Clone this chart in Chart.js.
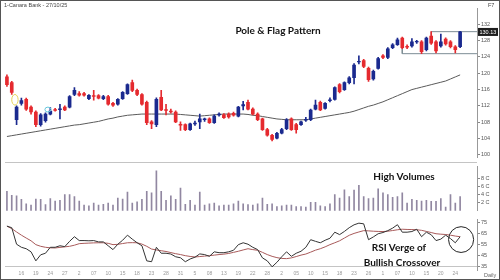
<!DOCTYPE html>
<html>
<head>
<meta charset="utf-8">
<script src="https://cdn.jsdelivr.net/npm/chart.js@4.4.1/dist/chart.umd.min.js"></script>
<style>
body { margin: 0; background: #fff; }
#wrap { position: relative; width: 500px; height: 280px; overflow: hidden; background: #fff; font-family: "Liberation Sans", Arial, sans-serif; }
canvas { position: absolute; left: 0; }
.note { position: absolute; font-family: Lato, "Open Sans", sans-serif; font-weight: 700; font-size: 10px; line-height: 12px; color: #111; white-space: nowrap; transform: translateX(-50%); }
.small { position: absolute; font-size: 5.5px; line-height: 7px; color: #444; white-space: nowrap; }
.rule { position: absolute; height: 1px; background: #c4c4c4; }
#frame { position: absolute; left: 0; top: 0; width: 498px; height: 278px; border: 1px solid #555; pointer-events: none; }
</style>
</head>
<body>
<div id="wrap">
  <canvas id="priceChart" width="500" height="162" style="top:0px"></canvas>
  <canvas id="volChart" width="500" height="53" style="top:162px"></canvas>
  <canvas id="rsiChart" width="500" height="65" style="top:215px"></canvas>
  <div class="rule" style="left:5px;top:162px;width:472px"></div>
  <div class="small" style="left:4px;top:2px">1-Canara Bank - 27/10/25</div>
  <div class="small" style="left:488px;top:2px">F7</div>
  <div class="small" style="left:484px;top:272px;color:#666">Daily</div>
  <div class="note" style="left:278px;top:24px">Pole &amp; Flag Pattern</div>
  <div class="note" style="left:404px;top:170px">High Volumes</div>
  <div class="note" style="left:399px;top:241px">RSI Verge of</div>
  <div class="note" style="left:402px;top:256px">Bullish Crossover</div>
  <div id="frame"></div>
</div>
<script>
// daily candles, oldest first
var opens = [119.1, 117.7, 108.6, 112.6, 113.6, 111.7, 110.5, 107.4, 108.4, 110.0,
    111.1, 111.1, 111.7, 111.7, 114.8, 115.0, 115.0, 113.8, 114.5, 114.5,
    113.8, 114.3, 112.6, 112.4, 113.8, 115.0, 117.7, 115.8, 114.8, 112.9,
    108.1, 107.4, 114.1, 111.1, 110.7, 110.5, 107.5, 107.4, 106.2, 107.6,
    108.1, 108.6, 108.8, 107.9, 109.8, 109.8, 110.0, 110.2, 109.5, 112.0,
    112.9, 111.2, 110.0, 108.8, 106.2, 104.8, 104.1, 105.3, 106.4, 108.8,
    107.4, 107.4, 108.5, 108.6, 111.2, 112.9, 111.4, 113.3, 113.6, 117.2,
    116.0, 117.7, 118.9, 122.8, 123.1, 121.2, 118.6, 121.2, 124.3, 123.9,
    126.3, 127.0, 128.6, 126.6, 126.7, 127.7, 127.7, 125.8, 129.1, 127.7,
    126.7, 128.4, 127.7, 126.5, 126.5];
var highs = [119.6, 118.0, 112.0, 113.9, 113.9, 112.0, 110.8, 110.1, 110.3, 111.6,
    111.4, 112.4, 112.0, 114.5, 116.5, 115.5, 115.3, 114.8, 115.8, 114.8,
    114.6, 114.6, 112.9, 113.8, 115.5, 117.4, 118.3, 116.1, 115.0, 113.2,
    108.4, 114.0, 115.8, 112.4, 111.2, 110.8, 108.1, 107.6, 107.8, 108.3,
    110.0, 109.0, 109.1, 109.8, 110.3, 110.1, 110.3, 110.5, 111.9, 113.1,
    113.4, 111.5, 110.3, 109.0, 106.5, 105.0, 105.5, 106.5, 108.9, 109.1,
    107.7, 108.3, 109.2, 111.2, 113.4, 113.2, 112.8, 114.0, 116.7, 117.5,
    117.9, 119.2, 122.4, 124.3, 123.4, 121.5, 120.8, 123.9, 124.6, 126.3,
    127.3, 128.6, 128.9, 127.0, 128.5, 128.1, 128.0, 128.9, 130.2, 128.0,
    129.6, 128.7, 128.0, 126.8, 130.3];
var lows = [116.8, 114.8, 107.4, 112.2, 110.9, 110.0, 106.9, 107.0, 108.0, 109.8,
    110.7, 108.8, 110.8, 111.5, 114.5, 114.4, 114.4, 113.5, 113.4, 113.7,
    113.5, 112.2, 111.9, 112.2, 113.6, 114.8, 115.5, 114.5, 112.2, 107.4,
    106.4, 106.9, 110.8, 109.8, 110.2, 107.9, 106.0, 105.9, 106.0, 107.2,
    106.4, 108.2, 107.7, 107.7, 109.5, 108.9, 109.0, 109.5, 109.3, 111.0,
    111.0, 109.8, 108.4, 106.0, 104.6, 103.4, 103.9, 105.1, 106.2, 106.0,
    105.3, 107.2, 108.2, 108.4, 111.0, 110.8, 111.2, 113.0, 113.4, 115.2,
    115.8, 117.4, 117.4, 122.3, 121.4, 118.0, 118.3, 121.0, 123.6, 123.6,
    126.0, 126.8, 126.0, 126.0, 126.4, 127.3, 124.8, 125.5, 127.1, 125.0,
    126.4, 126.9, 126.2, 125.0, 126.3];
var closes = [117.2, 115.3, 111.7, 113.3, 111.2, 110.5, 107.4, 109.8, 110.0, 110.7,
    110.9, 111.3, 111.0, 114.3, 115.8, 114.6, 114.6, 114.6, 114.3, 113.9,
    114.3, 112.4, 112.2, 113.6, 115.3, 117.2, 115.8, 114.8, 112.4, 107.9,
    107.6, 113.6, 111.0, 110.9, 110.5, 108.1, 107.3, 106.2, 107.6, 107.8,
    108.8, 108.8, 107.9, 109.5, 110.0, 109.1, 109.3, 109.7, 111.7, 112.3,
    111.2, 110.0, 108.6, 106.2, 104.8, 103.8, 105.3, 106.2, 108.6, 106.2,
    106.2, 108.1, 108.7, 111.0, 112.2, 111.0, 112.6, 113.5, 116.5, 115.5,
    117.7, 118.9, 122.0, 122.9, 121.7, 118.4, 120.5, 123.6, 123.9, 126.0,
    127.0, 128.2, 126.3, 126.4, 127.7, 127.8, 125.3, 128.6, 127.4, 125.5,
    127.7, 127.2, 126.5, 125.8, 130.13];
var ma = [104.5, 104.7, 104.9, 105.1, 105.3, 105.5, 105.7, 105.9, 106.1, 106.3,
    106.5, 106.7, 106.9, 107.1, 107.3, 107.4, 107.6, 107.8, 108.0, 108.2,
    108.5, 108.8, 109.0, 109.3, 109.5, 109.7, 109.8, 109.9, 110.0, 110.0,
    110.0, 110.0, 110.0, 110.0, 110.0, 110.0, 109.9, 109.8, 109.7, 109.6,
    109.5, 109.6, 109.7, 109.8, 109.9, 110.0, 110.0, 110.0, 110.0, 110.0,
    109.9, 109.7, 109.6, 109.4, 109.2, 109.0, 108.8, 108.7, 108.6, 108.6,
    108.6, 108.6, 108.6, 108.8, 109.0, 109.2, 109.4, 109.6, 109.8, 110.0,
    110.2, 110.4, 110.7, 111.1, 111.5, 111.9, 112.2, 112.6, 113.0, 113.5,
    114.0, 114.5, 115.0, 115.5, 116.0, 116.3, 116.6, 116.9, 117.2, 117.5,
    117.8, 118.1, 118.6, 119.1, 119.6];
// volume in crore shares
var volumes = [4.8, 3.8, 3.7, 2.8, 1.7, 1.4, 2.9, 2.8, 1.5, 3.0,
    2.4, 2.6, 4.0, 4.0, 3.5, 2.4, 1.4, 1.2, 1.9, 1.4,
    1.6, 1.9, 1.4, 3.1, 2.9, 4.6, 1.9, 2.2, 2.8, 4.8,
    4.4, 9.9, 4.8, 2.6, 3.7, 2.8, 5.6, 1.6, 2.6, 1.4,
    4.6, 1.4, 1.7, 1.9, 1.2, 1.4, 1.4, 1.7, 2.4, 1.7,
    1.5, 1.4, 1.7, 3.1, 1.6, 1.7, 1.0, 1.2, 1.4, 1.4,
    1.0, 1.0, 0.9, 2.1, 2.1, 1.2, 1.0, 1.7, 4.0, 3.1,
    5.2, 3.5, 5.1, 6.3, 3.5, 3.0, 3.1, 5.4, 4.4, 4.0,
    3.3, 3.5, 4.4, 1.9, 2.8, 2.6, 2.4, 2.6, 2.3, 2.3,
    3.0, 0.9, 4.0, 1.9, 3.5];
var rsi = [71.8, 70.4, 55.4, 52.6, 51.3, 48.5, 40.3, 45.8, 47.2, 52.6,
    52.6, 54.0, 53.2, 58.0, 62.2, 58.7, 58.7, 58.5, 58.7, 57.5,
    57.5, 54.0, 50.5, 55.4, 59.0, 63.6, 60.0, 56.7, 54.0, 40.3,
    39.5, 52.6, 47.2, 47.2, 46.5, 44.0, 43.1, 39.5, 42.0, 43.6,
    46.6, 46.0, 44.4, 48.5, 47.7, 47.7, 48.5, 49.9, 55.0, 56.7,
    55.4, 52.6, 50.5, 43.0, 40.3, 34.9, 39.0, 44.0, 48.5, 44.4,
    47.2, 49.0, 52.6, 59.5, 58.0, 56.7, 59.0, 60.8, 66.3, 64.1,
    67.0, 70.4, 73.0, 74.5, 73.9, 59.5, 62.0, 64.9, 66.0, 67.7,
    70.0, 73.1, 66.3, 66.3, 66.9, 69.0, 62.2, 66.3, 64.0, 58.7,
    60.0, 63.6, 60.5, 56.7, 62.2];
var rsiSignal = [71.8, 69.5, 66.5, 63.6, 61.0, 58.5, 55.0, 53.5, 52.6, 52.1,
    52.0, 52.5, 53.0, 53.5, 54.5, 55.9, 56.2, 56.4, 56.6, 56.7,
    56.7, 56.2, 55.0, 55.3, 56.0, 56.7, 56.8, 56.7, 55.5, 53.5,
    51.0, 50.2, 49.5, 48.8, 47.8, 46.8, 46.0, 45.0, 44.3, 43.8,
    44.2, 44.6, 45.0, 45.5, 46.0, 46.4, 47.0, 48.0, 49.0, 50.2,
    51.3, 50.5, 49.9, 48.0, 46.0, 44.4, 43.2, 42.5, 42.3, 43.0,
    44.2, 45.5, 46.5, 48.2, 50.0, 51.3, 53.0, 55.0, 56.7, 58.5,
    61.0, 63.5, 65.2, 66.5, 67.7, 67.5, 67.2, 67.0, 66.9, 67.2,
    67.8, 68.5, 69.0, 68.8, 68.7, 68.5, 68.0, 67.0, 66.0, 64.9,
    64.5, 64.2, 63.6, 62.8, 62.2];

var dateTicks = [3, 6, 9, 12, 15, 18, 21, 24, 27, 30, 33, 36, 39, 42, 45, 48,
    51, 54, 57, 60, 63, 66, 69, 72, 75, 78, 81, 84, 87, 90, 93];
var dateLabels = ["16", "19", "24", "27", "2", "07", "10", "15", "18", "23", "28", "31", "5", "08", "13", "19",
    "22", "28", "2", "05", "10", "15", "18", "23", "26", "1", "07", "10", "15", "20", "24"];
var priceTicks = [100, 102, 104, 106, 108, 110, 112, 114, 116, 118, 120, 122, 124, 126, 128, 130, 132, 134];
var volumeTicks = [2, 4, 6, 8];
var rsiTicks = [35, 40, 45, 50, 55, 60, 65, 70, 75];
var rsiLines = [70, 35];

// flag drawn on the chart
var flagTop = [{ x: 88, y: 129.2 }, { x: 88, y: 130.2 }, { x: 97.5, y: 130.2 }];
var flagBottom = [{ x: 82, y: 127.4 }, { x: 82, y: 124.8 }, { x: 97.5, y: 124.8 }];
var priceMarks = [
    { x: 1.66, y: 113.5, rx: 0.66, ry: 1.3, color: '#e6d35a' },
    { x: 8.5, y: 111.1, rx: 0.62, ry: 0.6, color: '#66c6dc' }
];
var rsiMarks = [{ x: 94.2, y: 59.6, rx: 2.6, ry: 11.7, color: '#222' }];

var BLUE = '#1b2a8f';
var RED = '#e52a2f';
var X_MIN = -0.4;
var X_MAX = 97.5;

var candleColors = opens.map(function (o, i) { return closes[i] >= o ? BLUE : RED; });

Chart.defaults.animation = false;
Chart.defaults.font.family = '"Liberation Sans", Arial, sans-serif';

function yAxisWidth(axis) { axis.width = 23; }

var ellipses = {
    id: 'ellipses',
    afterDatasetsDraw: function (chart, args, opts) {
        var ctx = chart.ctx, sx = chart.scales.x, sy = chart.scales.y;
        (opts.items || []).forEach(function (e) {
            var cx = sx.getPixelForValue(e.x), cy = sy.getPixelForValue(e.y);
            var rx = Math.abs(sx.getPixelForValue(e.x + e.rx) - cx);
            var ry = Math.abs(sy.getPixelForValue(e.y + e.ry) - cy);
            ctx.save();
            ctx.beginPath();
            ctx.ellipse(cx, cy, rx, ry, 0, 0, 2 * Math.PI);
            ctx.strokeStyle = e.color;
            ctx.lineWidth = 1;
            ctx.stroke();
            ctx.restore();
        });
    }
};

// last price box on the right axis
var lastPrice = {
    id: 'lastPrice',
    afterDraw: function (chart) {
        var ctx = chart.ctx;
        var v = closes[closes.length - 1];
        var y = chart.scales.y.getPixelForValue(v);
        var left = chart.chartArea.right + 1;
        ctx.save();
        ctx.fillStyle = '#1e1e1e';
        ctx.fillRect(left, y - 4, 20, 8);
        ctx.fillStyle = '#fff';
        ctx.font = '5.5px "Liberation Sans", Arial';
        ctx.textBaseline = 'middle';
        ctx.fillText(v.toFixed(2), left + 1.5, y + 0.5);
        ctx.restore();
    }
};

var idx = opens.map(function (o, i) { return i; });

new Chart(document.getElementById('priceChart'), {
    type: 'bar',
    data: {
        datasets: [
            {
                label: 'wick',
                data: idx.map(function (i) { return { x: i, y: [lows[i], highs[i]] }; }),
                backgroundColor: candleColors,
                barThickness: 1,
                grouped: false
            },
            {
                label: 'body',
                data: idx.map(function (i) { return { x: i, y: [opens[i], closes[i]] }; }),
                backgroundColor: candleColors,
                barThickness: 3,
                grouped: false
            },
            {
                type: 'line',
                label: 'MA',
                data: idx.map(function (i) { return { x: i, y: ma[i] }; }),
                borderColor: '#5a5a5a',
                borderWidth: 1,
                pointRadius: 0
            },
            {
                type: 'line',
                label: 'flag top',
                data: flagTop,
                borderColor: '#7d8d95',
                borderWidth: 1,
                pointRadius: 0
            },
            {
                type: 'line',
                label: 'flag bottom',
                data: flagBottom,
                borderColor: '#7d8d95',
                borderWidth: 1,
                pointRadius: 0
            }
        ]
    },
    options: {
        responsive: false,
        layout: { padding: { left: 5, top: 8, right: 0, bottom: 0 } },
        plugins: {
            legend: { display: false },
            tooltip: { enabled: false },
            ellipses: { items: priceMarks }
        },
        scales: {
            x: { type: 'linear', min: X_MIN, max: X_MAX, offset: false, display: false },
            y: {
                position: 'right',
                min: 99.3,
                max: 136,
                afterBuildTicks: function (axis) { axis.ticks = priceTicks.map(function (v) { return { value: v }; }); },
                afterFit: yAxisWidth,
                ticks: { font: { size: 5.5 }, color: '#555', padding: 1 },
                grid: { drawOnChartArea: false, tickLength: 3, color: '#888' },
                border: { color: '#999' }
            }
        }
    },
    plugins: [ellipses, lastPrice]
});

new Chart(document.getElementById('volChart'), {
    type: 'bar',
    data: {
        datasets: [{
            label: 'Volume',
            data: idx.map(function (i) { return { x: i, y: volumes[i] }; }),
            backgroundColor: '#9187a1',
            barThickness: 1
        }]
    },
    options: {
        responsive: false,
        layout: { padding: { left: 5, top: 0, right: 0, bottom: 0 } },
        plugins: { legend: { display: false }, tooltip: { enabled: false } },
        scales: {
            x: { type: 'linear', min: X_MIN, max: X_MAX, offset: false, display: false },
            y: {
                position: 'right',
                min: 0,
                max: 11,
                afterBuildTicks: function (axis) { axis.ticks = volumeTicks.map(function (v) { return { value: v }; }); },
                afterFit: yAxisWidth,
                ticks: { font: { size: 5.5 }, color: '#555', padding: 1, callback: function (v) { return v + ' C'; } },
                grid: { drawOnChartArea: false, tickLength: 3, color: '#888' },
                border: { color: '#999' }
            }
        }
    }
});

new Chart(document.getElementById('rsiChart'), {
    type: 'line',
    data: {
        datasets: [
            {
                label: 'RSI',
                data: idx.map(function (i) { return { x: i, y: rsi[i] }; }),
                borderColor: '#333',
                borderWidth: 1,
                pointRadius: 0
            },
            {
                label: 'Signal',
                data: idx.map(function (i) { return { x: i, y: rsiSignal[i] }; }),
                borderColor: '#a85a5a',
                borderWidth: 1,
                pointRadius: 0
            }
        ]
    },
    options: {
        responsive: false,
        layout: { padding: { left: 5, top: 1, right: 0, bottom: 2 } },
        plugins: {
            legend: { display: false },
            tooltip: { enabled: false },
            ellipses: { items: rsiMarks }
        },
        scales: {
            x: {
                type: 'linear',
                min: X_MIN,
                max: X_MAX,
                afterBuildTicks: function (axis) { axis.ticks = dateTicks.map(function (v) { return { value: v }; }); },
                ticks: {
                    autoSkip: false,
                    maxRotation: 0,
                    font: { size: 5 },
                    color: '#9a9a9a',
                    padding: 1,
                    callback: function (v) { var k = dateTicks.indexOf(v); return k >= 0 ? dateLabels[k] : ''; }
                },
                grid: { display: false, drawTicks: false },
                border: { display: false }
            },
            y: {
                position: 'right',
                min: 32,
                max: 78,
                afterBuildTicks: function (axis) { axis.ticks = rsiTicks.map(function (v) { return { value: v }; }); },
                afterFit: yAxisWidth,
                ticks: { font: { size: 5.5 }, color: '#555', padding: 1 },
                grid: {
                    tickLength: 3,
                    tickColor: '#888',
                    color: function (c) { return rsiLines.indexOf(c.tick.value) >= 0 ? '#c4c4c4' : 'rgba(0,0,0,0)'; }
                },
                border: { color: '#999' }
            }
        }
    },
    plugins: [ellipses]
});
</script>
</body>
</html>
